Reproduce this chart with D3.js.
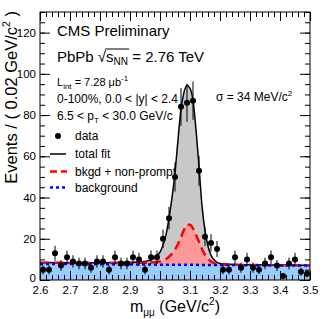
<!DOCTYPE html>
<html>
<head>
<meta charset="utf-8">
<script src="https://cdn.jsdelivr.net/npm/d3@7/dist/d3.min.js"></script>
<style>
  body { margin: 0; background: #fff; }
  text { font-family: "Liberation Sans", Arial, Helvetica, sans-serif; fill: #000; }
</style>
</head>
<body>
<svg id="chart" width="332" height="319"></svg>
<script>
'use strict';

/* data: dimuon mass bins (bin centres, GeV/c^2) and counts */
var massBins = [2.61, 2.63, 2.65, 2.67, 2.69, 2.71, 2.73, 2.75, 2.77, 2.79,
                2.81, 2.83, 2.85, 2.87, 2.89, 2.91, 2.93, 2.95, 2.97, 2.99,
                3.01, 3.03, 3.05, 3.07, 3.09, 3.11, 3.13, 3.15, 3.17, 3.19,
                3.21, 3.23, 3.25, 3.27, 3.29, 3.31, 3.33, 3.35, 3.37, 3.39,
                3.41, 3.43, 3.45, 3.47, 3.49];
var counts = [5, 5, 13, 7, 11, 9, 8, 8, 6, 9,
              9, 5, 11, 8, 8, 11, 10, 5, 11, 11,
              20, 30, 50, 84, 86, 87, 53, 21, 18, 15,
              5, 5, 11, 6, 10, 6, 5, 8, 11, 7,
              2, 8, 10, 4, 3];

/* fit curves */
var fitMass = [2.60, 2.70, 2.80, 2.90, 2.95, 2.98, 3.00, 3.01, 3.02, 3.03,
               3.04, 3.05, 3.06, 3.07, 3.08, 3.09, 3.10, 3.11, 3.12, 3.13,
               3.14, 3.15, 3.16, 3.17, 3.18, 3.20, 3.25, 3.30, 3.40, 3.50];
var totalFit = [8.5, 8.4, 8.4, 8.6, 9.0, 10.5, 13.5, 17, 22, 30,
                40, 52, 68, 83, 91, 94.5, 93, 87, 73, 55,
                36, 24, 16.5, 12, 9.8, 8.0, 7.5, 7.35, 7.2, 7.1];
var nonPromptFit = [8.4, 8.3, 8.3, 8.3, 8.4, 8.6, 9.0, 9.5, 10.2, 11.3,
                    12.8, 14.8, 17.5, 20.8, 24.3, 26.8, 26.8, 25.0, 22.0, 18.5,
                    15.0, 12.3, 10.3, 9.0, 8.2, 7.6, 7.4, 7.3, 7.15, 7.05];
var bkgMass = [2.6, 3.5];
var bkgFit = [7.8, 7.0];

var xTicks = [2.6, 2.7, 2.8, 2.9, 3.0, 3.1, 3.2, 3.3, 3.4, 3.5];
var xTickLabels = ['2.6', '2.7', '2.8', '2.9', '3', '3.1', '3.2', '3.3', '3.4', '3.5'];
var yTicks = [0, 20, 40, 60, 80, 100, 120];

var svg = d3.select('#chart');
var frameL = 40, frameR = 310, frameT = 12, frameB = 280;

var x = d3.scaleLinear().domain([2.6, 3.5]).range([frameL, frameR]);
var y = d3.scaleLinear().domain([0, 130]).range([frameB, frameT]);

svg.append('clipPath').attr('id', 'plotclip')
  .append('rect').attr('x', frameL).attr('y', frameT)
  .attr('width', frameR - frameL).attr('height', frameB - frameT);

var plot = svg.append('g').attr('clip-path', 'url(#plotclip)');

function zip(xs, ys) {
  return xs.map(function(v, i) { return [v, ys[i]]; });
}

var area = d3.area()
  .x(function(d) { return x(d[0]); })
  .y0(y(0))
  .y1(function(d) { return y(d[1]); })
  .curve(d3.curveMonotoneX);
var line = d3.line()
  .x(function(d) { return x(d[0]); })
  .y(function(d) { return y(d[1]); })
  .curve(d3.curveMonotoneX);

/* filled components */
plot.append('path').attr('d', area(zip(fitMass, totalFit))).attr('fill', '#c8c8c8');
plot.append('path').attr('d', area(zip(fitMass, nonPromptFit))).attr('fill', '#ff9999');
plot.append('path').attr('d', area(zip(bkgMass, bkgFit))).attr('fill', '#99ccff');

/* curves */
plot.append('path').attr('d', line(zip(fitMass, totalFit)))
  .attr('fill', 'none').attr('stroke', '#000').attr('stroke-width', 1.5);
plot.append('path').attr('d', line(zip(fitMass, nonPromptFit)))
  .attr('fill', 'none').attr('stroke', '#ff0000').attr('stroke-width', 2.5)
  .attr('stroke-dasharray', '9,5');
plot.append('path').attr('d', line(zip(bkgMass, bkgFit)))
  .attr('fill', 'none').attr('stroke', '#0000ff').attr('stroke-width', 2.5)
  .attr('stroke-dasharray', '3,3');

/* data points with poisson errors */
var pts = plot.selectAll('.pt').data(zip(massBins, counts)).enter()
  .append('g').attr('class', 'pt');
pts.append('line')
  .attr('x1', function(d) { return x(d[0]); })
  .attr('x2', function(d) { return x(d[0]); })
  .attr('y1', function(d) { return y(d[1] + Math.sqrt(d[1])); })
  .attr('y2', function(d) { return y(Math.max(0, d[1] - Math.sqrt(d[1]))); })
  .attr('stroke', '#000').attr('stroke-width', 1);
pts.append('circle')
  .attr('cx', function(d) { return x(d[0]); })
  .attr('cy', function(d) { return y(d[1]); })
  .attr('r', 3).attr('fill', '#000');

/* axes, ROOT style ticks pointing inwards */
function noLabels(a) { return a.tickFormat(''); }
var xMinor = d3.range(2.6, 3.5001, 0.02);
var yMinor = d3.range(0, 130.001, 5);

function styleAxis(g) {
  g.select('.domain').remove();
  g.selectAll('.tick line').attr('stroke', '#000');
}

var gx = svg.append('g').attr('transform', 'translate(0,' + frameB + ')')
  .call(d3.axisBottom(x).tickValues(xTicks).tickSize(-9).tickPadding(6)
    .tickFormat(function(d, i) { return xTickLabels[i]; }));
gx.call(styleAxis);
gx.selectAll('text').attr('font-size', 11.5).attr('font-family', null);
svg.append('g').attr('transform', 'translate(0,' + frameB + ')')
  .call(noLabels(d3.axisBottom(x).tickValues(xMinor).tickSize(-5))).call(styleAxis);
svg.append('g').attr('transform', 'translate(0,' + frameT + ')')
  .call(noLabels(d3.axisTop(x).tickValues(xTicks).tickSize(-9))).call(styleAxis);
svg.append('g').attr('transform', 'translate(0,' + frameT + ')')
  .call(noLabels(d3.axisTop(x).tickValues(xMinor).tickSize(-5))).call(styleAxis);

var gy = svg.append('g').attr('transform', 'translate(' + frameL + ',0)')
  .call(d3.axisLeft(y).tickValues(yTicks).tickSize(-10).tickPadding(4));
gy.call(styleAxis);
gy.selectAll('text').attr('font-size', 11.5).attr('font-family', null);
/* the zero label sits just above the x labels in the corner */
gy.selectAll('.tick').filter(function(d) { return d === 0; })
  .select('text').attr('dy', '0.1em');
svg.append('g').attr('transform', 'translate(' + frameL + ',0)')
  .call(noLabels(d3.axisLeft(y).tickValues(yMinor).tickSize(-5))).call(styleAxis);
svg.append('g').attr('transform', 'translate(' + frameR + ',0)')
  .call(noLabels(d3.axisRight(y).tickValues(yTicks).tickSize(-10))).call(styleAxis);
svg.append('g').attr('transform', 'translate(' + frameR + ',0)')
  .call(noLabels(d3.axisRight(y).tickValues(yMinor).tickSize(-5))).call(styleAxis);

/* frame */
svg.append('rect').attr('x', frameL).attr('y', frameT)
  .attr('width', frameR - frameL).attr('height', frameB - frameT)
  .attr('fill', 'none').attr('stroke', '#000').attr('stroke-width', 1);

/* axis titles */
var xt = svg.append('text').attr('x', 175).attr('y', 312)
  .attr('text-anchor', 'middle').attr('font-size', 16);
xt.append('tspan').text('m');
xt.append('tspan').attr('dy', 4).attr('font-size', 10).text('μμ');
xt.append('tspan').attr('dy', -4).text(' (GeV/c');
xt.append('tspan').attr('dy', -7).attr('font-size', 10).text('2');
xt.append('tspan').attr('dy', 7).text(')');

var yt = svg.append('text').attr('transform', 'translate(16.5,11) rotate(-90)')
  .attr('text-anchor', 'end').attr('font-size', 16.5);
yt.append('tspan').text('Events / ( 0.02 GeV/c');
yt.append('tspan').attr('dy', -7).attr('font-size', 10.5).text('2');
yt.append('tspan').attr('dy', 7).text(' )');

/* labels inside the frame */
svg.append('text').attr('x', 57).attr('y', 36).attr('font-size', 15).text('CMS Preliminary');
var pb = svg.append('text').attr('x', 57).attr('y', 62).attr('font-size', 15);
pb.append('tspan').text('PbPb √');
pb.append('tspan').text('s');
pb.append('tspan').attr('dy', 3).attr('font-size', 10).text('NN');
pb.append('tspan').attr('dy', -3).text(' = 2.76 TeV');
var pbNode = pb.node();
var rootEnd = pbNode.getSubStringLength(0, 6);
var nnEnd = pbNode.getSubStringLength(0, 9);
svg.append('line').attr('x1', 57 + rootEnd - 1).attr('x2', 57 + nnEnd + 1)
  .attr('y1', 49).attr('y2', 49).attr('stroke', '#000').attr('stroke-width', 1);

var li = svg.append('text').attr('x', 57).attr('y', 86).attr('font-size', 11);
li.append('tspan').text('L');
li.append('tspan').attr('dy', 3).attr('font-size', 8).text('int');
li.append('tspan').attr('dy', -3).text(' =  7.28 μb');
li.append('tspan').attr('dy', -5).attr('font-size', 8).text('-1');

svg.append('text').attr('x', 57).attr('y', 103).attr('font-size', 12)
  .text('0-100%, 0.0 < |y| < 2.4');
var ptText = svg.append('text').attr('x', 57).attr('y', 120).attr('font-size', 12);
ptText.append('tspan').text('6.5 < p');
ptText.append('tspan').attr('dy', 3).attr('font-size', 8).text('T');
ptText.append('tspan').attr('dy', -3).text(' < 30.0 GeV/c');

var sg = svg.append('text').attr('x', 216).attr('y', 101).attr('font-size', 12);
sg.append('tspan').text('σ = 34 MeV/c');
sg.append('tspan').attr('dy', -5).attr('font-size', 8).text('2');

/* legend */
var legend = svg.append('g');
legend.append('circle').attr('cx', 58).attr('cy', 136).attr('r', 3).attr('fill', '#000');
legend.append('line').attr('x1', 50).attr('x2', 66).attr('y1', 154).attr('y2', 154)
  .attr('stroke', '#000').attr('stroke-width', 1.5);
legend.append('line').attr('x1', 50).attr('x2', 67).attr('y1', 171.5).attr('y2', 171.5)
  .attr('stroke', '#ff0000').attr('stroke-width', 2.5).attr('stroke-dasharray', '7,4');
legend.append('line').attr('x1', 50).attr('x2', 66).attr('y1', 187.5).attr('y2', 187.5)
  .attr('stroke', '#0000ff').attr('stroke-width', 2.5).attr('stroke-dasharray', '3,3');
var legendNames = ['data', 'total fit', 'bkgd + non-prompt', 'background'];
var legendY = [140, 158, 176, 192];
legendNames.forEach(function(n, i) {
  legend.append('text').attr('x', 75).attr('y', legendY[i]).attr('font-size', 12).text(n);
});
</script>
</body>
</html>
